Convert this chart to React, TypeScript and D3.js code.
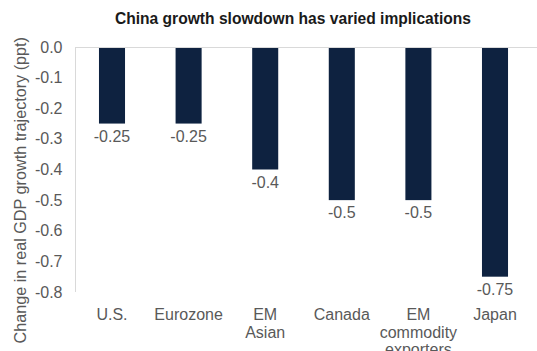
import React from "react";
import * as d3 from "d3";

const categories: string[][] = [
  ["U.S."],
  ["Eurozone"],
  ["EM", "Asian"],
  ["Canada"],
  ["EM", "commodity", "exporters"],
  ["Japan"],
];
const values: number[] = [-0.25, -0.25, -0.4, -0.5, -0.5, -0.75];
const valueLabels: string[] = ["-0.25", "-0.25", "-0.4", "-0.5", "-0.5", "-0.75"];
const yTicks: number[] = [0, -0.1, -0.2, -0.3, -0.4, -0.5, -0.6, -0.7, -0.8];

const W = 537;
const H = 351;
const FONT = "'Liberation Sans', Arial, sans-serif";
const TEXT = "#595959";
const FS = 16;

export default function App() {
  const x = d3
    .scaleBand<number>()
    .domain(values.map((_, i) => i))
    .range([73.7, 533.3])
    .paddingInner(0.66)
    .paddingOuter(0.33);
  const y = d3.scaleLinear().domain([0, -0.8]).range([47, 292]);
  const axisX = 75.5;

  return (
    <svg
      width={W}
      height={H}
      style={{ position: "absolute", left: 0, top: 0, background: "#fff" }}
      fontFamily={FONT}
    >
      <text x={293} y={24} textAnchor="middle" fontSize={15.6} fontWeight="bold" fill="#1a1a1a">
        China growth slowdown has varied implications
      </text>
      <text
        transform={`translate(26, 37) rotate(-90)`}
        textAnchor="end"
        fontSize={16.2}
        fill={TEXT}
      >
        Change in real GDP growth trajectory (ppt)
      </text>
      {yTicks.map((t) => (
        <text
          key={t}
          x={62.5}
          y={y(t)}
          dy="0.35em"
          textAnchor="end"
          fontSize={FS}
          fill={TEXT}
        >
          {t.toFixed(1)}
        </text>
      ))}
      <line x1={axisX} x2={axisX} y1={y(0)} y2={y(-0.8)} stroke="#d9d9d9" strokeWidth={1} />
      <line x1={axisX} x2={W} y1={y(0) + 0.5} y2={y(0) + 0.5} stroke="#d9d9d9" strokeWidth={1} />
      {values.map((v, i) => (
        <rect
          key={i}
          x={x(i)!}
          y={y(0) + 1}
          width={x.bandwidth()}
          height={y(v) - y(0) - 1}
          fill="#0e2240"
        />
      ))}
      {values.map((v, i) => (
        <text
          key={i}
          x={x(i)! + x.bandwidth() / 2}
          y={y(v) + 18}
          textAnchor="middle"
          fontSize={FS}
          fill={TEXT}
        >
          {valueLabels[i]}
        </text>
      ))}
      {categories.map((lines, i) => (
        <text
          key={i}
          x={x(i)! + x.bandwidth() / 2}
          y={320}
          textAnchor="middle"
          fontSize={FS}
          fill={TEXT}
        >
          {lines.map((l, j) => (
            <tspan key={j} x={x(i)! + x.bandwidth() / 2} dy={j === 0 ? 0 : 17.5}>
              {l}
            </tspan>
          ))}
        </text>
      ))}
    </svg>
  );
}
